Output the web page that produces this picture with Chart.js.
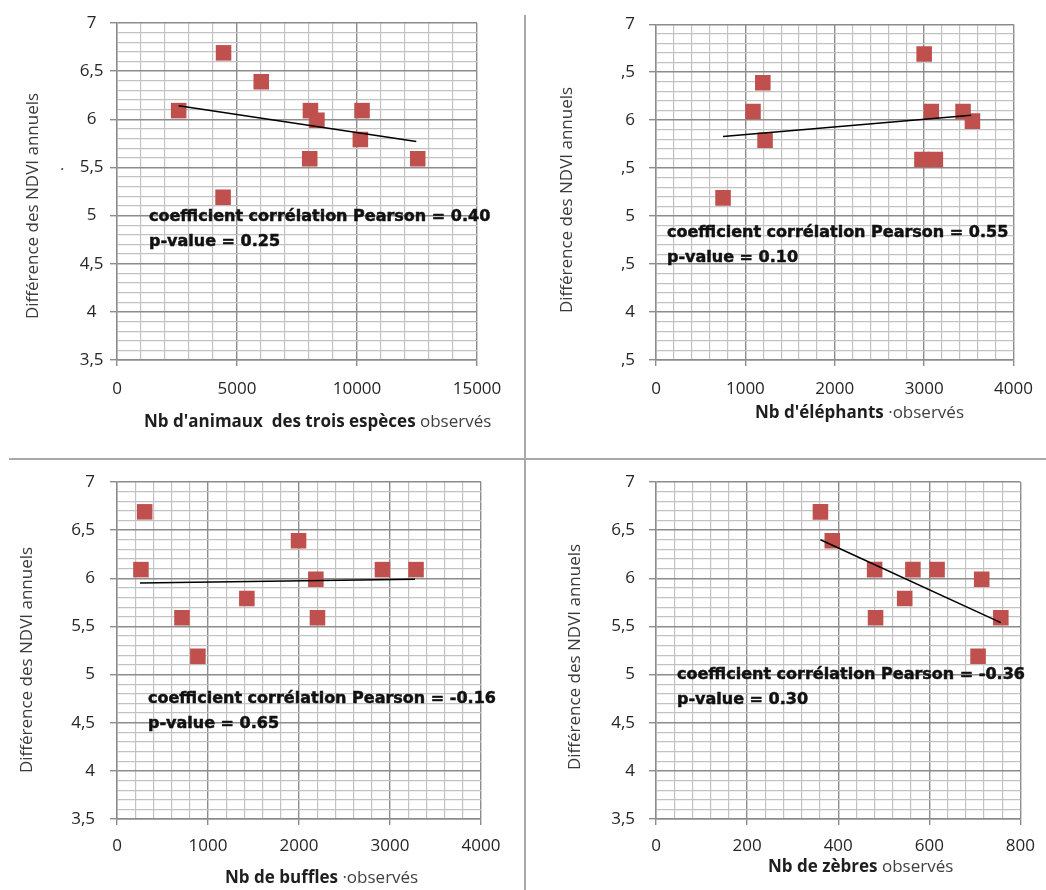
<!DOCTYPE html>
<html>
<head>
<meta charset="utf-8">
<script src="https://cdn.jsdelivr.net/npm/chart.js@4.4.1/dist/chart.umd.min.js"></script>
<style>
html,body{margin:0;padding:0;background:#fff;}
#wrap{position:relative;width:1046px;height:890px;overflow:hidden;background:#fff;}
canvas{position:absolute;left:0;top:0;}
.vline{position:absolute;left:524px;top:15px;width:2px;height:875px;background:#a8a8a8;}
.hline{position:absolute;left:9px;top:458px;width:1037px;height:2px;background:#a8a8a8;}
</style>
</head>
<body>
<div id="wrap">
  <div class="vline"></div>
  <div class="hline"></div>
  <canvas id="c1" width="1046" height="890"></canvas>
  <canvas id="c2" width="1046" height="890"></canvas>
  <canvas id="c3" width="1046" height="890"></canvas>
  <canvas id="c4" width="1046" height="890"></canvas>
</div>
<script>
// ---------------- DATA ----------------
const Y_TITLE = 'Différence des NDVI annuels';
const NDVI_TICK_LABELS = ['3,5', '4', '4,5', '5', '5,5', '6', '6,5', '7'];
const NDVI_TICK_LABELS_CROPPED = [',5', '4', ',5', '5', ',5', '6', ',5', '7'];

// Panel 1 : trois espèces
const ALL_X = [2570, 4440, 6010, 8060, 8330, 10210, 10140, 8030, 12530, 4420];
const ALL_Y = [6.09, 6.69, 6.39, 6.09, 5.99, 6.09, 5.79, 5.59, 5.59, 5.19];
const ALL_TREND_X = [2570, 12470];
const ALL_TREND_Y = [6.14, 5.77];
const ALL_X_TICKS = ['0', '5000', '10000', '15000'];

// Panel 2 : éléphants
const ELE_X = [750, 1085, 1195, 1220, 3000, 3080, 2975, 3125, 3435, 3540];
const ELE_Y = [5.19, 6.09, 6.39, 5.79, 6.69, 6.09, 5.59, 5.59, 6.09, 5.99];
const ELE_TREND_X = [749, 3526];
const ELE_TREND_Y = [5.83, 6.05];
const ELE_X_TICKS = ['0', '1000', '2000', '3000', '4000'];

// Panel 3 : buffles
const BUF_X = [263, 304, 714, 889, 1427, 1995, 2185, 2203, 2917, 3286];
const BUF_Y = [6.09, 6.69, 5.59, 5.19, 5.79, 6.39, 5.99, 5.59, 6.09, 6.09];
const BUF_TREND_X = [253, 3275];
const BUF_TREND_Y = [5.95, 5.99];
const BUF_X_TICKS = ['0', '1000', '2000', '3000', '4000'];

// Panel 4 : zèbres
const ZEB_X = [361, 387, 480, 482, 546, 564, 617, 715, 707, 757];
const ZEB_Y = [6.69, 6.39, 6.09, 5.59, 5.79, 6.09, 6.09, 5.99, 5.19, 5.59];
const ZEB_TREND_X = [361, 757];
const ZEB_TREND_Y = [6.40, 5.54];
const ZEB_X_TICKS = ['0', '200', '400', '600', '800'];

const PEARSON_TEXT = [
  'coefficient corrélation Pearson = 0.40',
  'coefficient corrélation Pearson = 0.55',
  'coefficient corrélation Pearson = -0.16',
  'coefficient corrélation Pearson = -0.36'
];
const PVALUE_TEXT = ['p-value = 0.25', 'p-value = 0.10', 'p-value = 0.65', 'p-value = 0.30'];
const X_TITLE_BOLD = ["Nb d'animaux  des trois espèces", "Nb d'éléphants", 'Nb de buffles', 'Nb de zèbres'];
const X_TITLE_REG = [' observés', ' ·observés', ' ·observés', ' observés'];

// ---------------- STYLE / LAYOUT ----------------
const W = 1046, H = 890;
const MAJOR = '#8c8c8c';
const MINOR = '#c2c2c2';
const MARKER = '#C0504D';
const Y_MIN = 3.5, Y_MAX = 7, Y_MINOR = 0.1, Y_MAJOR = 0.5;
const YW = 60, XH = 40;

const panels = [
  { id: 'c1', xs: ALL_X, ys: ALL_Y, tx: ALL_TREND_X, ty: ALL_TREND_Y, xMax: 15000, xMinor: 1000, xMajor: 5000,
    xLabels: ALL_X_TICKS, yLabels: NDVI_TICK_LABELS, area: {l: 117, r: 477, t: 23, b: 360},
    yAlign: 'center', yPad: 6.5, xPad: 13, ann: {x: 149, y: 221}, yTitle: {x: 33, y: 206}, xTitle: {x: 144, y: 427},
    stray: {x: 60, y: 170} },
  { id: 'c2', xs: ELE_X, ys: ELE_Y, tx: ELE_TREND_X, ty: ELE_TREND_Y, xMax: 4000, xMinor: 200, xMajor: 1000,
    xLabels: ELE_X_TICKS, yLabels: NDVI_TICK_LABELS_CROPPED, area: {l: 656, r: 1019, t: 23, b: 360},
    yAlign: 'near', yPad: 14, xPad: 13, ann: {x: 667, y: 237}, yTitle: {x: 567, y: 200}, xTitle: {x: 755, y: 418} },
  { id: 'c3', xs: BUF_X, ys: BUF_Y, tx: BUF_TREND_X, ty: BUF_TREND_Y, xMax: 4000, xMinor: 200, xMajor: 1000,
    xLabels: BUF_X_TICKS, yLabels: NDVI_TICK_LABELS, area: {l: 117, r: 481, t: 482, b: 819},
    yAlign: 'near', yPad: 15, xPad: 11, ann: {x: 148, y: 703}, yTitle: {x: 27, y: 660}, xTitle: {x: 225, y: 883} },
  { id: 'c4', xs: ZEB_X, ys: ZEB_Y, tx: ZEB_TREND_X, ty: ZEB_TREND_Y, xMax: 800, xMinor: 40, xMajor: 200,
    xLabels: ZEB_X_TICKS, yLabels: NDVI_TICK_LABELS, area: {l: 656, r: 1025, t: 482, b: 819},
    yAlign: 'near', yPad: 14, xPad: 11, ann: {x: 677, y: 679}, yTitle: {x: 575, y: 657}, xTitle: {x: 768, y: 872} }
];

function isMult(v, step) {
  const r = v / step;
  return Math.abs(r - Math.round(r)) < 1e-6;
}
function tickBuilder(min, max, step) {
  return scale => {
    const n = Math.round((max - min) / step);
    const t = [];
    for (let i = 0; i <= n; i++) t.push({ value: +(min + i * step).toFixed(6) });
    scale.ticks = t;
  };
}

function makeTextPlugin(p, idx) {
  return {
    id: 'texts' + idx,
    afterDraw(chart) {
      const ctx = chart.ctx;
      ctx.save();
      // annotation (bold, slightly thickened)
      ctx.font = 'bold 16px "DejaVu Sans"';
      ctx.fillStyle = '#111111';
      ctx.strokeStyle = '#111111';
      ctx.lineWidth = 0.5;
      ctx.textAlign = 'left';
      ctx.textBaseline = 'alphabetic';
      ctx.fillText(PEARSON_TEXT[idx], p.ann.x, p.ann.y);
      ctx.strokeText(PEARSON_TEXT[idx], p.ann.x, p.ann.y);
      ctx.fillText(PVALUE_TEXT[idx], p.ann.x, p.ann.y + 25);
      ctx.strokeText(PVALUE_TEXT[idx], p.ann.x, p.ann.y + 25);
      // stray dot
      if (p.stray) {
        ctx.font = '17px "Open Sans"';
        ctx.fillStyle = '#404040';
        ctx.fillText('.', p.stray.x, p.stray.y);
      }
      // y title
      ctx.save();
      ctx.translate(p.yTitle.x, p.yTitle.y);
      ctx.rotate(-Math.PI / 2);
      ctx.font = '17px "Open Sans"';
      ctx.fillStyle = '#3a3a3a';
      ctx.textAlign = 'center';
      ctx.textBaseline = 'middle';
      ctx.fillText(Y_TITLE, 0, 0);
      ctx.restore();
      // x title
      ctx.textAlign = 'left';
      ctx.textBaseline = 'alphabetic';
      ctx.font = 'bold 17px "Open Sans"';
      ctx.fillStyle = '#1e1e1e';
      ctx.fillText(X_TITLE_BOLD[idx], p.xTitle.x, p.xTitle.y);
      const w = ctx.measureText(X_TITLE_BOLD[idx]).width;
      ctx.font = '17px "Open Sans"';
      ctx.fillStyle = '#404040';
      ctx.fillText(X_TITLE_REG[idx], p.xTitle.x + w, p.xTitle.y);
      ctx.restore();
    }
  };
}

panels.forEach((p, idx) => {
  const pts = p.xs.map((x, i) => ({ x: x, y: p.ys[i] }));
  const trend = p.tx.map((x, i) => ({ x: x, y: p.ty[i] }));
  new Chart(document.getElementById(p.id), {
    type: 'scatter',
    data: {
      datasets: [
        { type: 'line', data: trend, borderColor: '#000000', borderWidth: 1.5, pointRadius: 0,
          pointHoverRadius: 0, fill: false, tension: 0 },
        { data: pts, backgroundColor: MARKER, borderColor: MARKER, borderWidth: 0,
          pointStyle: 'rect', pointRadius: 11, pointHoverRadius: 11 }
      ]
    },
    options: {
      responsive: false,
      animation: false,
      events: [],
      layout: { padding: { left: p.area.l - YW, top: p.area.t, right: W - p.area.r, bottom: H - p.area.b - XH } },
      plugins: { legend: { display: false }, tooltip: { enabled: false } },
      scales: {
        x: {
          type: 'linear', min: 0, max: p.xMax,
          afterBuildTicks: tickBuilder(0, p.xMax, p.xMinor),
          afterFit: s => { s.height = XH; },
          grid: {
            color: c => isMult(c.tick.value, p.xMajor) ? MAJOR : MINOR,
            lineWidth: c => isMult(c.tick.value, p.xMajor) ? 1.4 : 1.2,
            tickColor: c => isMult(c.tick.value, p.xMajor) ? MAJOR : 'rgba(0,0,0,0)',
            tickLength: 6, drawTicks: true
          },
          border: { color: MAJOR, width: 1.4 },
          ticks: {
            autoSkip: false, maxRotation: 0, minRotation: 0, padding: p.xPad,
            color: '#262626', font: { family: 'Open Sans', size: 17 },
            callback: v => isMult(v, p.xMajor) ? p.xLabels[Math.round(v / p.xMajor)] : ''
          }
        },
        y: {
          type: 'linear', min: Y_MIN, max: Y_MAX,
          afterBuildTicks: tickBuilder(Y_MIN, Y_MAX, Y_MINOR),
          afterFit: s => { s.width = YW; },
          grid: {
            color: c => isMult(c.tick.value, Y_MAJOR) ? MAJOR : MINOR,
            lineWidth: c => isMult(c.tick.value, Y_MAJOR) ? 1.4 : 1.2,
            tickColor: c => isMult(c.tick.value, Y_MAJOR) ? MAJOR : 'rgba(0,0,0,0)',
            tickLength: 7, drawTicks: true
          },
          border: { color: MAJOR, width: 1.4 },
          ticks: {
            autoSkip: false, padding: p.yPad, crossAlign: p.yAlign,
            color: '#262626', font: { family: 'Open Sans', size: 17 },
            callback: v => isMult(v - Y_MIN, Y_MAJOR) ? p.yLabels[Math.round((v - Y_MIN) / Y_MAJOR)] : ''
          }
        }
      }
    },
    plugins: [makeTextPlugin(p, idx)]
  });
});
</script>
</body>
</html>
